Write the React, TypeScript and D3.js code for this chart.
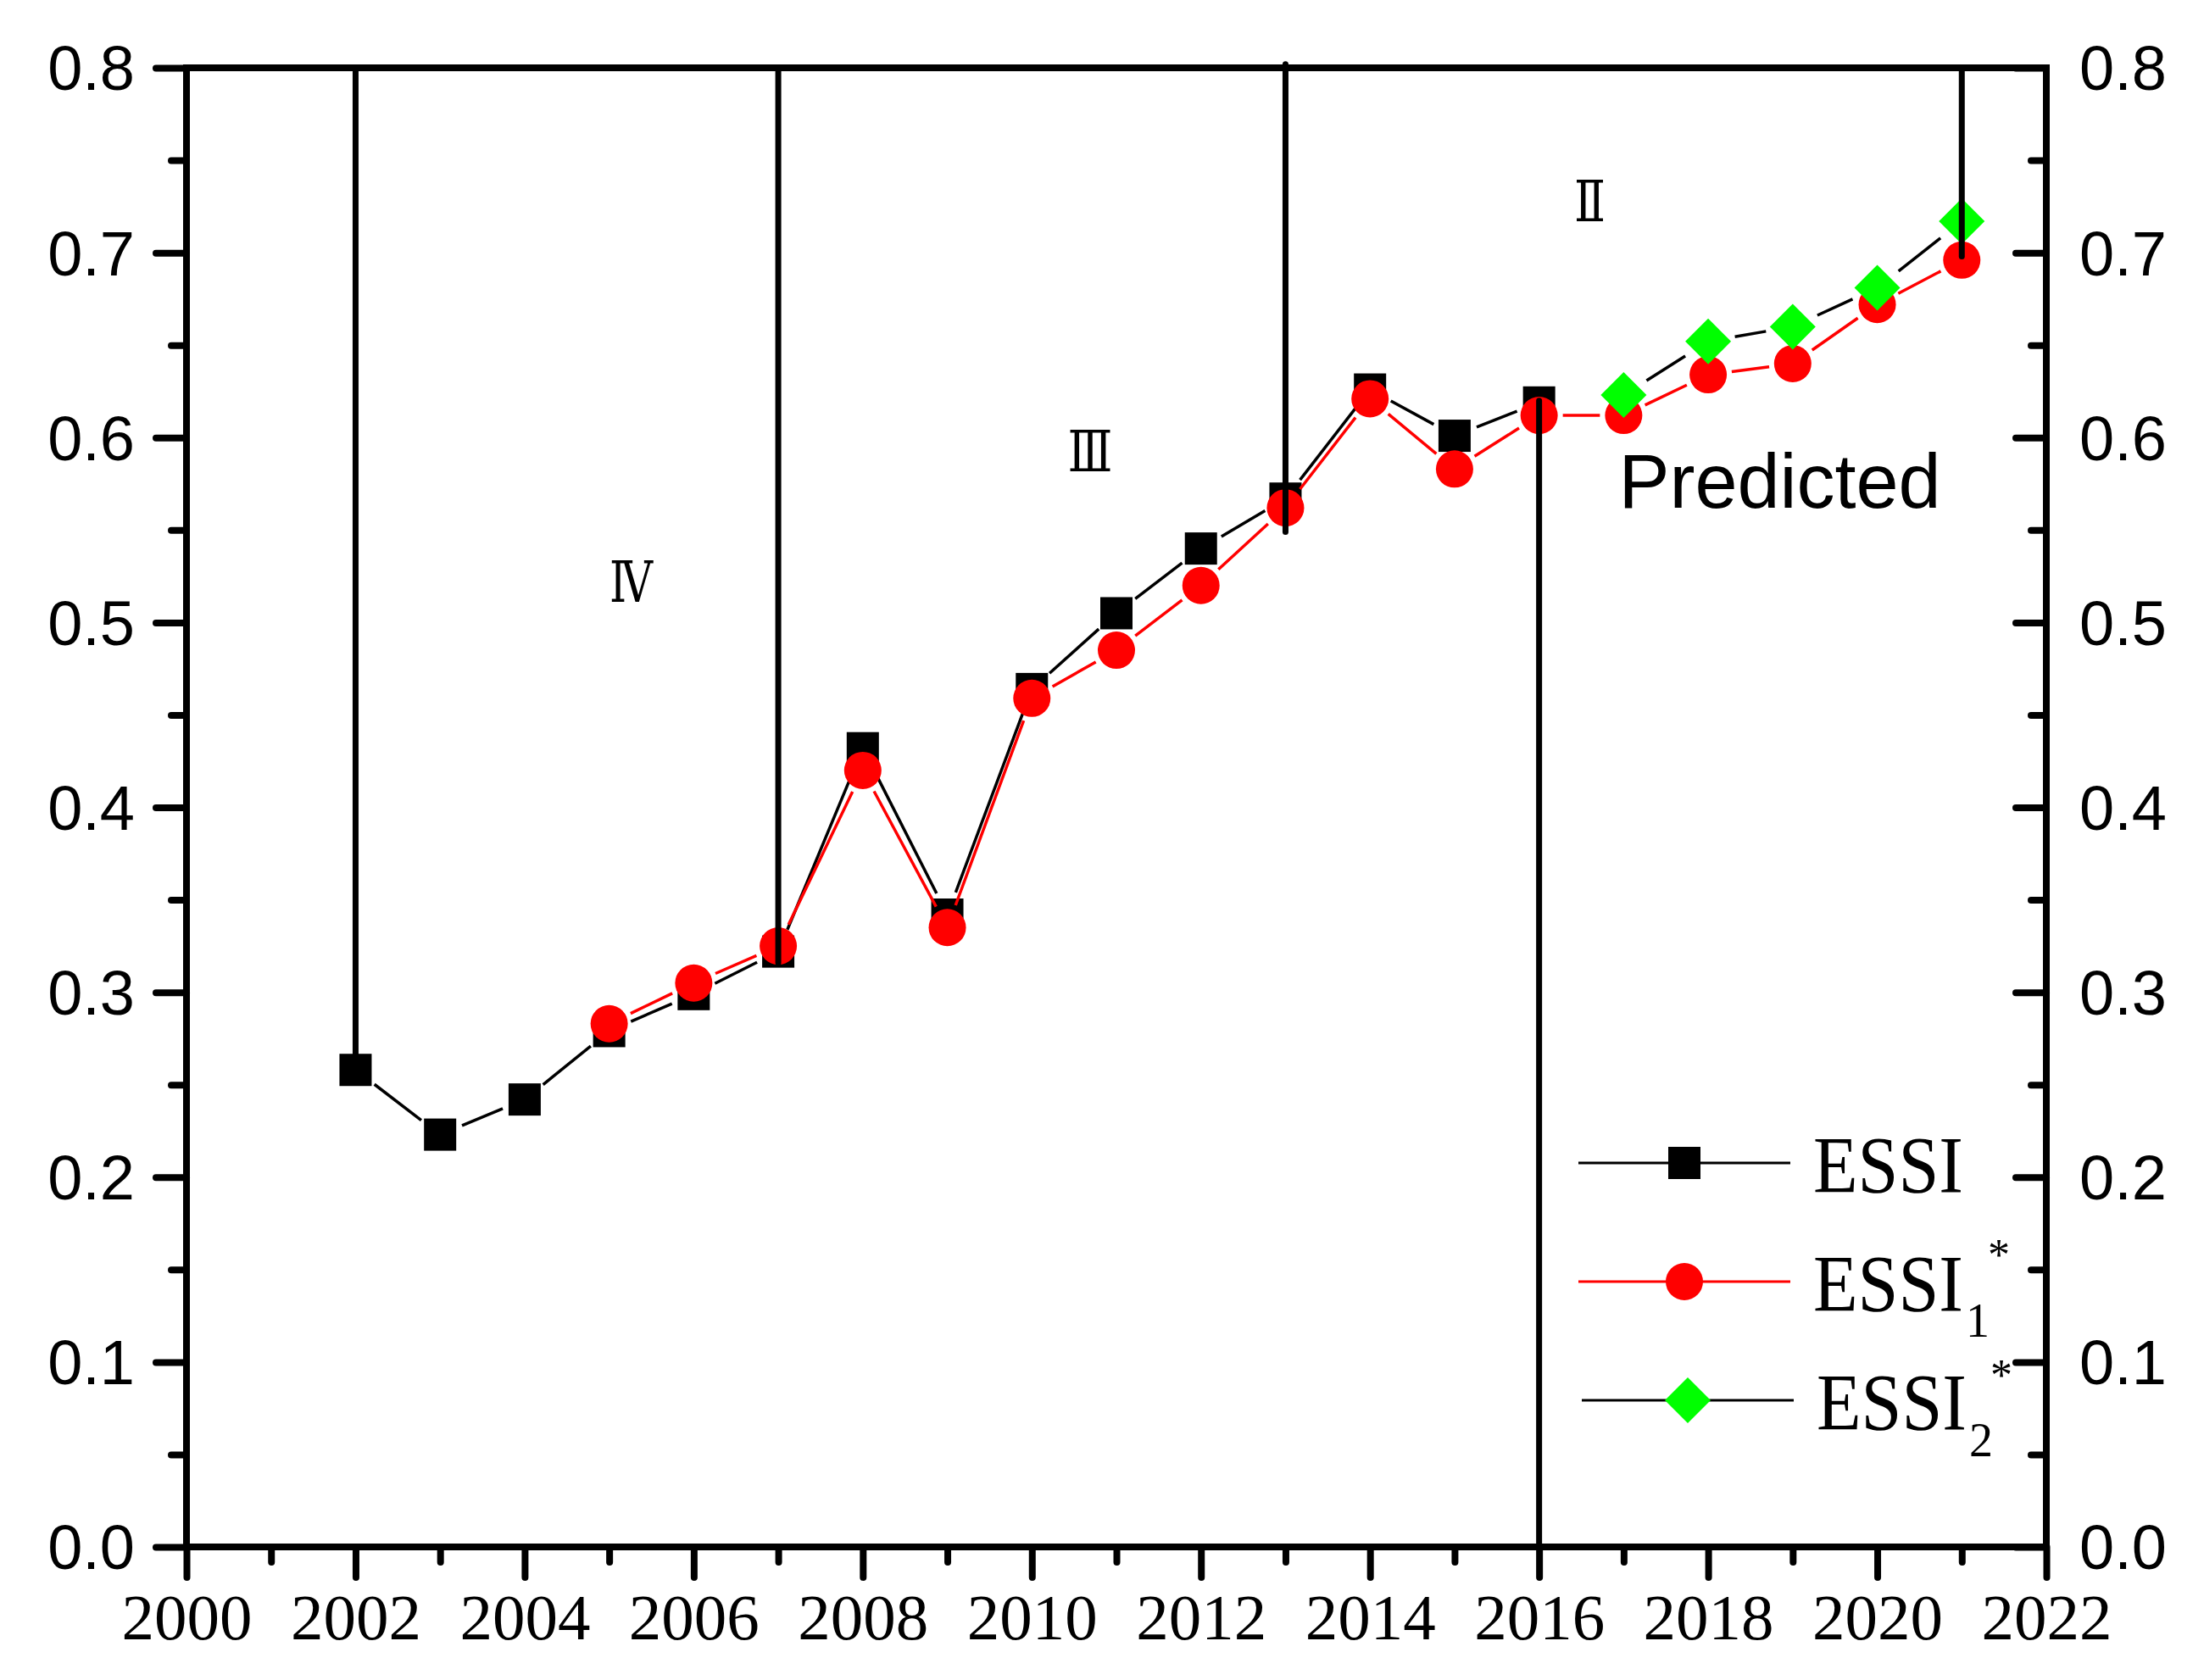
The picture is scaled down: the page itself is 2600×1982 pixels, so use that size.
import React, { useRef, useEffect } from "react";
import * as d3 from "d3";

// ---- data ----
const essiYears = [2002, 2003, 2004, 2005, 2006, 2007, 2008, 2009, 2010, 2011, 2012, 2013, 2014, 2015, 2016];
const essiValues = [0.258, 0.223, 0.242, 0.279, 0.299, 0.322, 0.432, 0.342, 0.464, 0.505, 0.540, 0.567, 0.626, 0.601, 0.619];

const essi1Years = [2005, 2006, 2007, 2008, 2009, 2010, 2011, 2012, 2013, 2014, 2015, 2016, 2017, 2018, 2019, 2020, 2021];
const essi1Values = [0.283, 0.305, 0.325, 0.420, 0.335, 0.459, 0.485, 0.520, 0.562, 0.621, 0.583, 0.612, 0.612, 0.634, 0.640, 0.672, 0.696];

const essi2Years = [2017, 2018, 2019, 2020, 2021];
const essi2Values = [0.623, 0.652, 0.660, 0.681, 0.717];

// stage divider lines: year, top value, bottom value
const dividerYears = [2002, 2007, 2013, 2016, 2021];
const dividerTop = [0.8, 0.8, 0.802, 0.62, 0.8];
const dividerBottom = [0.266, 0.316, 0.549, 0.0, 0.698];

// stage labels (year, value of baseline)
const stageLabels = ["Ⅳ", "Ⅲ", "Ⅱ"];
const stageLabelYears = [2005.26, 2010.69, 2016.6];
const stageLabelValues = [0.511, 0.582, 0.717];
const stageLabelWidths = [51, 53, 37];

const yMajorTicks = [0, 0.1, 0.2, 0.3, 0.4, 0.5, 0.6, 0.7, 0.8];
const yMinorTicks = [0.05, 0.15, 0.25, 0.35, 0.45, 0.55, 0.65, 0.75];
const xMajorTicks = [2000, 2002, 2004, 2006, 2008, 2010, 2012, 2014, 2016, 2018, 2020, 2022];
const xMinorTicks = [2001, 2003, 2005, 2007, 2009, 2011, 2013, 2015, 2017, 2019, 2021];

const W = 2600;
const H = 1982;
const plot = { left: 220, right: 2414, top: 80, bottom: 1825 };

const SANS = "'Liberation Sans', Arial, sans-serif";
const SERIF = "'Liberation Serif', 'Times New Roman', 'DejaVu Serif', serif";

// line with gaps around the markers (Origin style)
function gapped(pts: [number, number][], gap: number) {
  let d = "";
  for (let i = 0; i < pts.length - 1; i++) {
    const [x0, y0] = pts[i];
    const [x1, y1] = pts[i + 1];
    const len = Math.hypot(x1 - x0, y1 - y0);
    if (len <= 2 * gap) continue;
    const ux = (x1 - x0) / len;
    const uy = (y1 - y0) / len;
    d += `M${x0 + ux * gap},${y0 + uy * gap}L${x1 - ux * gap},${y1 - uy * gap}`;
  }
  return d;
}

const SQ = 38;
const CR = 22;
const DM = 27;
const diamond = `M0,${-DM}L${DM},0L0,${DM}L${-DM},0Z`;

export default function App() {
  const axesRef = useRef<SVGGElement | null>(null);

  const x = d3.scaleLinear().domain([2000, 2022]).range([plot.left, plot.right]);
  const y = d3.scaleLinear().domain([0, 0.8]).range([plot.bottom, plot.top]);

  const essiPts: [number, number][] = essiYears.map((yr, i) => [x(yr), y(essiValues[i])]);
  const essi1Pts: [number, number][] = essi1Years.map((yr, i) => [x(yr), y(essi1Values[i])]);
  const essi2Pts: [number, number][] = essi2Years.map((yr, i) => [x(yr), y(essi2Values[i])]);

  useEffect(() => {
    if (!axesRef.current) return;
    const g = d3.select(axesRef.current);
    g.selectAll("*").remove();

    const fmt = d3.format(".1f");

    // left
    g.append("g")
      .attr("class", "ylab")
      .attr("transform", `translate(${plot.left},0)`)
      .call(d3.axisLeft(y).tickValues(yMajorTicks).tickSize(36).tickPadding(25).tickFormat((d: any) => fmt(d)));
    g.append("g")
      .attr("transform", `translate(${plot.left},0)`)
      .call(d3.axisLeft(y).tickValues(yMinorTicks).tickSize(18).tickFormat(() => ""));
    // right (ticks inward)
    g.append("g")
      .attr("class", "ylab")
      .attr("transform", `translate(${plot.right},0)`)
      .call(d3.axisRight(y).tickValues(yMajorTicks).tickSizeInner(-36).tickSizeOuter(0).tickPadding(39).tickFormat((d: any) => fmt(d)));
    g.append("g")
      .attr("transform", `translate(${plot.right},0)`)
      .call(d3.axisRight(y).tickValues(yMinorTicks).tickSizeInner(-18).tickSizeOuter(0).tickFormat(() => ""));
    // bottom
    g.append("g")
      .attr("class", "xlab")
      .attr("transform", `translate(0,${plot.bottom})`)
      .call(d3.axisBottom(x).tickValues(xMajorTicks).tickSize(36).tickPadding(18).tickFormat((d: any) => String(d)));
    g.append("g")
      .attr("transform", `translate(0,${plot.bottom})`)
      .call(d3.axisBottom(x).tickValues(xMinorTicks).tickSize(18).tickFormat(() => ""));

    g.selectAll(".domain").remove();
    g.selectAll(".tick line").attr("stroke", "#000").attr("stroke-width", 8).attr("stroke-linecap", "round");
    g.selectAll(".tick text").attr("fill", "#000");

    g.selectAll(".ylab .tick text")
      .attr("font-family", SANS)
      .attr("font-size", 74)
      .attr("dy", "0.35em");
    g.selectAll(".xlab .tick text")
      .attr("font-family", SERIF)
      .attr("font-size", 77);

    g.append("rect")
      .attr("x", plot.left)
      .attr("y", plot.top)
      .attr("width", plot.right - plot.left)
      .attr("height", plot.bottom - plot.top)
      .attr("fill", "none")
      .attr("stroke", "#000")
      .attr("stroke-width", 8);
  }, []);

  const legendX0 = 1862;
  const legendX1 = 2112;
  const legendMx = 1987;
  const rows = [1372, 1512, 1652];
  const textX = 2139;

  return (
    <svg
      width={W}
      height={H}
      style={{ position: "absolute", left: 0, top: 0, background: "#fff" }}
    >
      <rect x={0} y={0} width={W} height={H} fill="#fff" />

      {/* ESSI */}
      <path d={gapped(essiPts, 28)} stroke="#000" strokeWidth={3.5} fill="none" />
      {essiPts.map(([px, py], i) => (
        <rect key={"s" + i} x={px - SQ / 2} y={py - SQ / 2} width={SQ} height={SQ} fill="#000" />
      ))}

      {/* ESSI1* */}
      <path d={gapped(essi1Pts, 28)} stroke="#ff0000" strokeWidth={3.5} fill="none" />
      {essi1Pts.map(([px, py], i) => (
        <circle key={"c" + i} cx={px} cy={py} r={CR} fill="#ff0000" />
      ))}

      {/* ESSI2* */}
      <path d={gapped(essi2Pts, 32)} stroke="#000" strokeWidth={3.5} fill="none" />
      {essi2Pts.map(([px, py], i) => (
        <path key={"d" + i} d={diamond} transform={`translate(${px},${py})`} fill="#00ff00" />
      ))}

      {/* stage dividers */}
      {dividerYears.map((yr, i) => (
        <line
          key={"v" + i}
          x1={x(yr)}
          x2={x(yr)}
          y1={y(dividerTop[i])}
          y2={y(dividerBottom[i])}
          stroke="#000"
          strokeWidth={7}
          strokeLinecap="round"
        />
      ))}

      {stageLabels.map((t, i) => (
        <text
          key={"l" + i}
          x={x(stageLabelYears[i])}
          y={y(stageLabelValues[i])}
          textAnchor="middle"
          fontFamily={SERIF}
          fontSize={68}
          textLength={stageLabelWidths[i]}
          lengthAdjust="spacingAndGlyphs"
        >
          {t}
        </text>
      ))}

      <text x={x(2016.94)} y={y(0.562)} fontFamily={SANS} fontSize={90}>
        Predicted
      </text>

      <g ref={axesRef} />

      {/* legend */}
      <line x1={legendX0} x2={legendX1} y1={rows[0]} y2={rows[0]} stroke="#000" strokeWidth={3} />
      <rect x={legendMx - SQ / 2} y={rows[0] - SQ / 2} width={SQ} height={SQ} fill="#000" />
      <line x1={legendX0} x2={legendX1} y1={rows[1]} y2={rows[1]} stroke="#ff0000" strokeWidth={3} />
      <circle cx={legendMx} cy={rows[1]} r={CR} fill="#ff0000" />
      <line x1={legendX0 + 4} x2={legendX1 + 4} y1={rows[2]} y2={rows[2]} stroke="#000" strokeWidth={3} />
      <path d={diamond} transform={`translate(${legendMx + 4},${rows[2]})`} fill="#00ff00" />

      <g fontFamily={SERIF} fill="#000">
        <text x={textX} y={rows[0] + 35} fontSize={95} textLength={177} lengthAdjust="spacingAndGlyphs">ESSI</text>

        <text x={textX} y={rows[1] + 35} fontSize={95} textLength={177} lengthAdjust="spacingAndGlyphs">ESSI</text>
        <text x={2319} y={rows[1] + 65} fontSize={56}>1</text>
        <text x={2345} y={rows[1] - 14} fontSize={52}>*</text>

        <text x={textX + 4} y={rows[2] + 35} fontSize={95} textLength={177} lengthAdjust="spacingAndGlyphs">ESSI</text>
        <text x={2323} y={rows[2] + 66} fontSize={56}>2</text>
        <text x={2348} y={rows[2] - 12} fontSize={52}>*</text>
      </g>
    </svg>
  );
}
